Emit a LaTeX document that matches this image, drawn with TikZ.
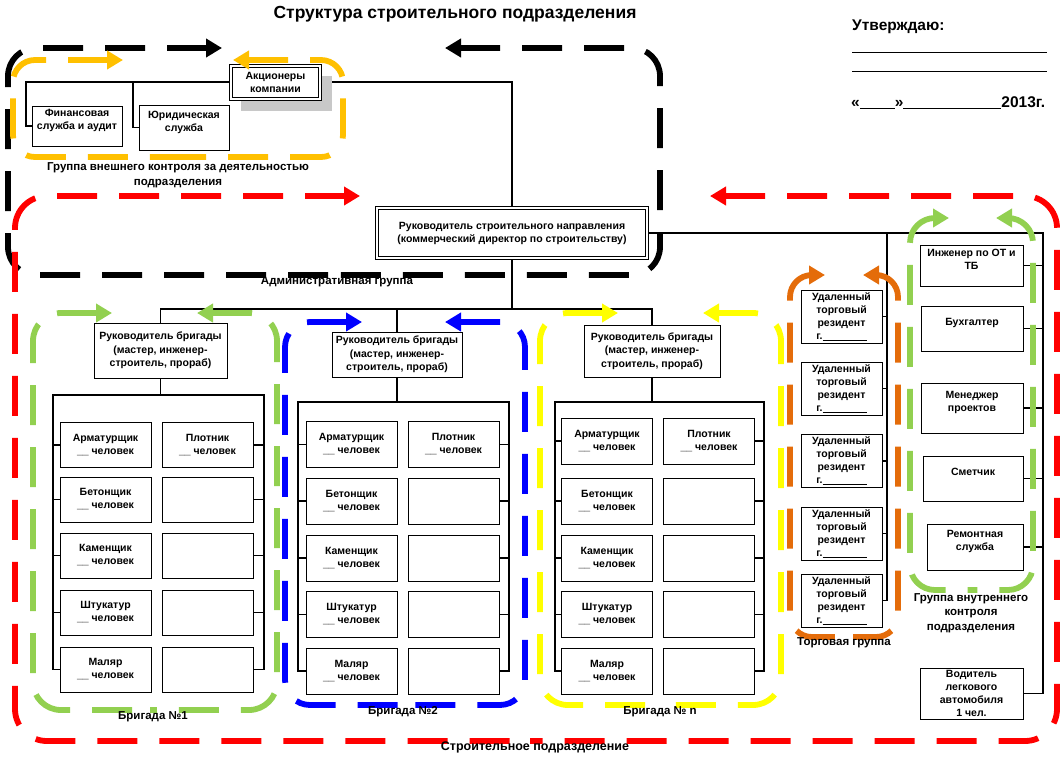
\documentclass[tikz,border=0pt]{standalone}
\usepackage{fontspec}
\setmainfont{Liberation Sans}
\usetikzlibrary{arrows.meta}
\pgfdeclarelayer{bg}
\pgfsetlayers{bg,main}
\definecolor{camber}{RGB}{255,192,0}
\definecolor{cred}{RGB}{255,0,0}
\definecolor{cgreen}{RGB}{146,208,80}
\definecolor{cblue}{RGB}{0,0,255}
\definecolor{cyel}{RGB}{255,255,0}
\definecolor{corange}{RGB}{228,108,10}
\definecolor{cshadow}{RGB}{200,200,200}
\newcommand\bxf{\fontsize{10.5}{13}\selectfont\bfseries}
\newcommand\lbf{\fontsize{11.5}{14.5}\selectfont\bfseries}
\newcommand\Bx[6]{\node[box, minimum width=#4, minimum height=#5] (#1) at (#2,#3) {#6};}
% colour, L, T, R, B, radius, left arrow tip x, right arrow tip x, bottom split x
\newcommand\Grp[9]{%
  \draw[grp, #1, rounded corners=#6] (#7,#3) -- (#2,#3) -- (#2,#5) -- (#9,#5);
  \draw[grp, #1, rounded corners=#6] (#8,#3) -- (#4,#3) -- (#4,#5) -- (#9,#5);}
\begin{document}
\begin{tikzpicture}[x=1pt,y=-1pt,
  box/.style={draw, line width=0.9pt, fill=white, inner sep=0pt, align=center, font=\bxf},
  dbl/.style={double, double distance=2pt, line width=0.7pt},
  conn/.style={line width=1.2pt},
  grp/.style={line width=5.8pt, dash pattern=on 40pt off 22pt, {Triangle[length=16pt,width=18pt]}-},
  lbl/.style={font=\lbf, align=center, inner sep=0pt}]
\useasboundingbox (0,0) rectangle (1060,756);

% ---------- header ----------
\node[font=\fontsize{17.5}{20}\selectfont\bfseries] (title) at (455,14) {Структура строительного подразделения};
\node[anchor=west, inner sep=0pt, font=\fontsize{15.5}{18}\selectfont\bfseries] (utv) at (852,27) {Утверждаю:};
\draw[line width=1pt] (852,52) -- (1047,52);
\draw[line width=1pt] (852,71) -- (1047,71);
\node[anchor=west, inner sep=0pt, font=\fontsize{15.5}{18}\selectfont\bfseries] (date) at (851,103)
  {«\rule[-1.5pt]{35pt}{1pt}»\rule[-1.5pt]{98pt}{1pt}2013г.};

% ---------- top group ----------
\fill[cshadow] (241,76) rectangle (332,111);
\node[box, dbl, minimum width=89, minimum height=33] (akc) at (275.5,82.5) {Акционеры\\компании};
\Bx{fin}{77}{126}{90}{40}{Финансовая\\служба и аудит\\~}
\Bx{yur}{184}{127.5}{90}{45}{Юридическая\\служба\\~}
\node[box, dbl, minimum width=270, minimum height=50] (dir) at (512,233)
  {Руководитель строительного направления\\(коммерческий директор по строительству)};

% ---------- brigades ----------
\foreach \bg/\hx/\hy/\hw/\hh/\Bt/\Bl/\Br/\lx/\rx/\rh/\ya/\yb/\yc/\yd/\ye in {
  1/160.5/350.5/133/55/395/53/264/105.5/207.5/45/445/499.5/555.5/612.5/669.5,
  2/397/354.5/130/45/402/298/509/351.5/453.5/46/444.5/501/558/614.5/671,
  n/652/351/136/52/402/555/764/607/709/46/441/501/558/614.5/671}{
  \node[box, minimum width=\hw, minimum height=\hh, font=\fontsize{10.5}{13.5}\selectfont\bfseries] (h\bg) at (\hx,\hy)
    {Руководитель бригады\\(мастер, инженер-\\строитель, прораб)};
  \foreach \rr/\yy/\nm in {1/\ya/Арматурщик, 2/\yb/Бетонщик, 3/\yc/Каменщик, 4/\yd/Штукатур, 5/\ye/Маляр}{
    \node[box, minimum width=91, minimum height=\rh] (L\bg\rr) at (\lx,\yy) {\nm\\\_\_ человек};
    \node[box, minimum width=91, minimum height=\rh] (R\bg\rr) at (\rx,\yy) {};
  }
  \node[font=\bxf, align=center, inner sep=0pt] at (R\bg1) {Плотник\\\_\_ человек};
  \begin{pgfonlayer}{bg}
    \coordinate (bl\bg) at (\Bl,\Bt);
    \coordinate (br\bg) at (\Br,\Bt);
    \draw[conn] (h\bg.south) -- (h\bg.south |- bl\bg);
    \draw[conn] (L\bg5.west) -| (bl\bg) -- (br\bg) |- (R\bg5.east);
    \foreach \rr in {1,...,4}{
      \draw[conn] (L\bg\rr.west) -- (L\bg\rr.west -| bl\bg);
      \draw[conn] (R\bg\rr.east) -- (R\bg\rr.east -| br\bg);
    }
  \end{pgfonlayer}
}

% ---------- trade residents ----------
\foreach \i/\yy in {1/316.5,2/388.5,3/461,4/533.5,5/600.5}{
  \node[box, minimum width=81, minimum height=53] (t\i) at (841.5,\yy)
    {Удаленный\\торговый\\резидент\\г.\rule[-1.5pt]{44pt}{0.9pt}};
}

% ---------- internal control column ----------
\Bx{ing}{971.5}{265.5}{103}{41}{Инженер по ОТ и\\ТБ\\~}
\Bx{buh}{972}{328.5}{102}{45}{Бухгалтер\\~}
\Bx{men}{972}{408}{102}{50}{Менеджер\\проектов\\~}
\Bx{sme}{973}{478.5}{100}{45}{Сметчик\\~}
\Bx{rem}{975}{547}{96}{46}{Ремонтная\\служба\\~}
\Bx{vod}{971.5}{693.5}{103}{51}{Водитель\\легкового\\автомобиля\\1 чел.}

% ---------- connectors ----------
\begin{pgfonlayer}{bg}
  \coordinate (tl) at (26,82);
  \coordinate (ym) at (133,82);
  \coordinate (hb) at (512,309);
  \coordinate (tv) at (887,232);
  \coordinate (rv) at (1043,232);
  \draw[conn] (fin.west) -| (tl) -- (tl -| dir.north) -- (dir.north);
  \draw[conn] (yur.west) -| (ym);
  \draw[conn] (dir.south) -- (hb);
  \draw[conn] (h1.north) |- (hb -| hn.north) -- (hn.north);
  \draw[conn] (h2.north) -- (h2.north |- hb);
  \draw[conn] (dir.east) -- (dir.east -| rv) -- (vod.east -| rv) -- (vod.east);
  \draw[conn] (tv) -- (t5.east -| tv) -- (t5.east);
  \foreach \i in {1,...,4}{\draw[conn] (t\i.east) -- (t\i.east -| tv);}
  \foreach \n in {ing,buh,men,sme,rem}{\draw[conn] (\n.east) -- (\n.east -| rv);}
\end{pgfonlayer}

% ---------- dashed groups ----------
\Grp{black}{8}{48}{660}{275}{28pt}{222}{445}{330}
\Grp{camber}{13}{60}{343}{157}{22pt}{123}{233}{180}
\Grp{cred}{15}{196}{1057}{741}{32pt}{360}{710}{530}
\Grp{cgreen}{33}{313}{277}{710}{28pt}{112}{197}{150}
\Grp{cblue}{285}{322}{525}{705}{25pt}{362}{445}{400}
\Grp{cyel}{540}{313}{781}{705}{28pt}{618}{703}{660}
\Grp{corange}{790}{275}{898}{637}{22pt}{825}{863}{845}
\Grp{cgreen}{910}{218}{1033}{590}{25pt}{949}{996}{970}

% ---------- group labels ----------
\node[lbl] (gvk) at (178,175) {Группа внешнего контроля за деятельностью\\подразделения};
\node[lbl] (adm) at (337,282) {Административная группа};
\node[lbl] (br1) at (153,717) {Бригада №1};
\node[lbl] (br2) at (403,712) {Бригада №2};
\node[lbl] (brn) at (660,712) {Бригада № n};
\node[lbl, font=\fontsize{12.5}{15}\selectfont\bfseries] (sp) at (535,747) {Строительное подразделение};
\node[lbl] (tg) at (844,643) {Торговая группа};
\node[lbl] (gvn) at (971,613) {Группа внутреннего\\контроля\\подразделения};
\end{tikzpicture}
\end{document}
